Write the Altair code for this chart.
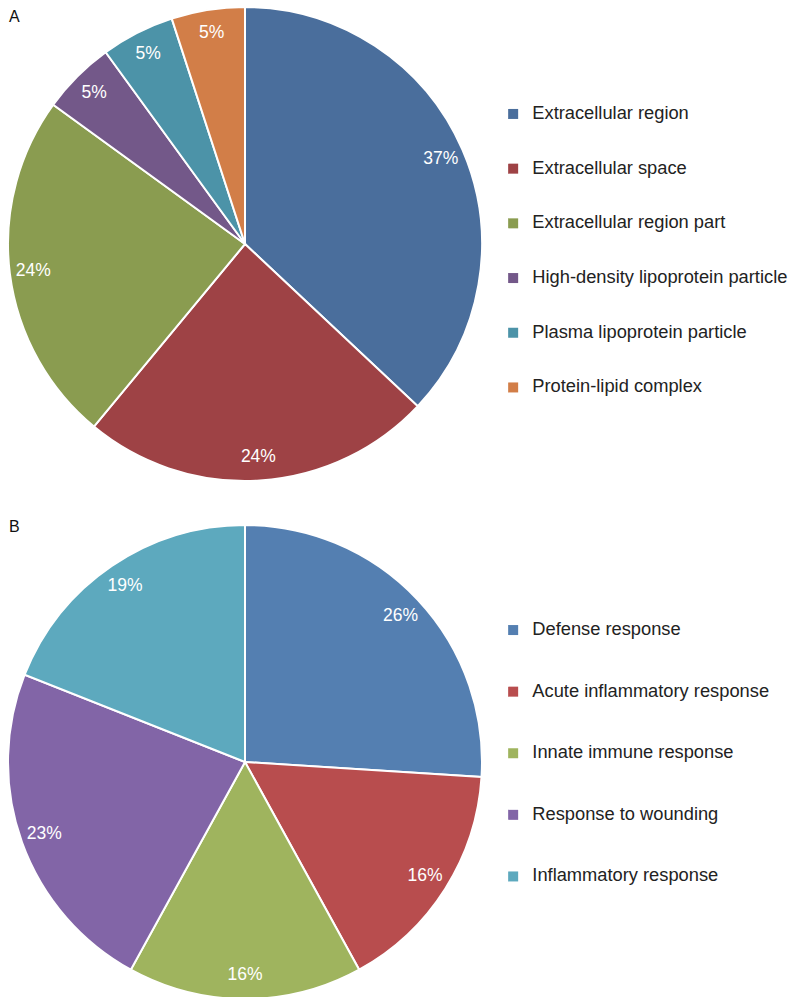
import altair as alt
import pandas as pd

# ---- data ----
cats_a = ["Extracellular region", "Extracellular space", "Extracellular region part",
          "High-density lipoprotein particle", "Plasma lipoprotein particle", "Protein-lipid complex"]
vals_a = [37, 24, 24, 5, 5, 5]
colors_a = ["#4A6E9C", "#9E4245", "#8A9C50", "#735889", "#4C93A8", "#D27E48"]

cats_b = ["Defense response", "Acute inflammatory response", "Innate immune response",
          "Response to wounding", "Inflammatory response"]
vals_b = [26, 16, 16, 23, 19]
colors_b = ["#547FB1", "#B84D4E", "#9FB45E", "#8265A7", "#5DA9BE"]

panel_labels = ["A", "B"]

FONT = "Liberation Sans"
LEG_FONT = 18.3


def make_df(cats, vals):
    return pd.DataFrame({
        "category": cats,
        "value": vals,
        "order": list(range(len(cats))),
        "label": [f"{v}%" for v in vals],
    })


def pie(cats, vals, colors, cx, cy, r, legend_x, legend_y, row_pad):
    df = make_df(cats, vals)
    base = alt.Chart(df)
    arc = base.mark_arc(radius=r, stroke="white", strokeWidth=2).encode(
        theta=alt.Theta("value:Q", stack=True),
        order=alt.Order("order:Q"),
        color=alt.Color(
            "category:N",
            scale=alt.Scale(domain=cats, range=colors),
            legend=alt.Legend(
                orient="none", legendX=legend_x, legendY=legend_y, title=None,
                symbolType="square", symbolSize=100, symbolStrokeWidth=0,
                labelFontSize=LEG_FONT, labelFont=FONT, labelColor="#222222",
                rowPadding=row_pad, labelOffset=10, padding=0, labelLimit=400,
            ),
        ),
        x=alt.value(cx), y=alt.value(cy),
    )
    txt = base.mark_text(radius=r * 0.9, fontSize=17.5, font=FONT, color="white",
                         align="center", baseline="middle").encode(
        theta=alt.Theta("value:Q", stack=True),
        order=alt.Order("order:Q"),
        text="label:N",
        x=alt.value(cx), y=alt.value(cy),
    )
    return alt.layer(arc, txt)


pie_a = pie(cats_a, vals_a, colors_a, 237, 236, 237, 496, 96.8, 35.7)
pie_b = pie(cats_b, vals_b, colors_b, 237, 754, 237, 496, 612.9, 42.6)

panel_df = pd.DataFrame({"t": panel_labels, "px": [1, 1], "py": [14, 524]})
panels = alt.Chart(panel_df).mark_text(
    align="left", baseline="alphabetic", fontSize=16, font=FONT, color="#111111"
).encode(
    text="t:N",
    x=alt.X("px:Q", scale=alt.Scale(domain=[0, 782], range=[0, 782]), axis=None),
    y=alt.Y("py:Q", scale=alt.Scale(domain=[0, 989], range=[0, 989]), axis=None),
)

chart = alt.layer(pie_a, pie_b, panels).resolve_scale(
    color="independent", theta="independent"
).properties(
    width=782, height=989, padding=0, autosize=alt.AutoSizeParams(type="none")
).configure_view(stroke=None)

chart.save("out.html", embed_options={"renderer": "svg", "actions": False})
